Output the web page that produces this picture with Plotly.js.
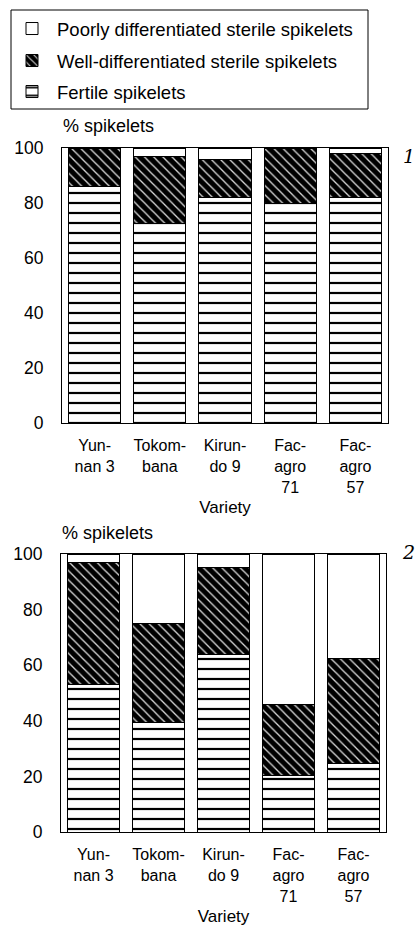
<!DOCTYPE html>
<html>
<head>
<meta charset="utf-8">
<script src="https://cdn.plot.ly/plotly-3.0.1.min.js"></script>
<style>html,body{margin:0;padding:0;background:#fff;}#chart{width:418px;height:929px;}</style>
</head>
<body>
<div id="chart"></div>
<script>
// ---- data ----
const varieties = ["Yunnan 3", "Tokombana", "Kirundo 9", "Facagro 71", "Facagro 57"];
const tickLabels = ["Yun-<br>nan 3", "Tokom-<br>bana", "Kirun-<br>do 9", "Fac-<br>agro<br>71", "Fac-<br>agro<br>57"];
const seriesNames = ["Fertile spikelets", "Well-differentiated sterile spikelets", "Poorly differentiated sterile spikelets"];
// Panel 1
const fertile1 = [86, 72.5, 82, 80, 82];
const wellSterile1 = [14, 24.5, 14, 20, 16];
const poorSterile1 = [0, 3, 4, 0, 2];
// Panel 2
const fertile2 = [53, 39.5, 64, 20.5, 24.5];
const wellSterile2 = [44, 35.5, 31, 25.5, 38];
const poorSterile2 = [3, 25, 5, 54, 37.5];
const yTicks = [0, 20, 40, 60, 80, 100];
const panelLabels = ["1", "2"];
const yTitle = "% spikelets";
const xTitle = "Variety";

// ---- helpers ----
const W = 418, H = 929;
const px = x => x / W;
const py = y => 1 - y / H;
const FONT = "Liberation Sans, Arial, sans-serif";

const styles = [
  {color: "#ffffff", pattern: {shape: "-", fgcolor: "#000", bgcolor: "#fff", size: 10, solidity: 0.22}},
  {color: "#000000", pattern: {shape: "\\", fgcolor: "#d8d8d8", bgcolor: "#000", size: 6.5, solidity: 0.2}},
  {color: "#ffffff", pattern: {shape: ""}}
];
const legends = ["legend3", "legend2", "legend"];

function panelTraces(vals, xa, ya, show) {
  return vals.map((v, i) => ({
    type: "bar",
    name: seriesNames[i],
    x: varieties,
    y: v,
    xaxis: xa, yaxis: ya,
    showlegend: show,
    legend: legends[i],
    marker: {color: styles[i].color, pattern: styles[i].pattern, line: {color: "#000", width: 1}},
    hoverinfo: "y+name"
  }));
}

const data = [
  ...panelTraces([fertile1, wellSterile1, poorSterile1], "x", "y", true),
  ...panelTraces([fertile2, wellSterile2, poorSterile2], "x2", "y2", false)
];

function xAxis(dom, anchor) {
  return {
    domain: dom, anchor: anchor,
    type: "category",
    tickmode: "array", tickvals: varieties, ticktext: tickLabels,
    tickfont: {family: FONT, size: 16, color: "#000"},
    ticklabelstandoff: 8,
    showline: true, mirror: true, linecolor: "#000", linewidth: 1,
    ticks: "", showgrid: false, zeroline: false, fixedrange: true,
    title: {text: xTitle, font: {family: FONT, size: 17, color: "#000"}, standoff: 6}
  };
}
function yAxis(dom, anchor) {
  return {
    domain: dom, anchor: anchor,
    range: [0, 100],
    tickmode: "array", tickvals: yTicks,
    tickfont: {family: FONT, size: 17.5, color: "#000"},
    ticklabelstandoff: 14,
    showline: true, mirror: true, linecolor: "#000", linewidth: 1,
    ticks: "", showgrid: false, zeroline: false, fixedrange: true
  };
}

const legendBase = {
  bgcolor: "rgba(0,0,0,0)", borderwidth: 0,
  font: {family: FONT, size: 18.5, color: "#000"},
  xanchor: "left", yanchor: "middle", itemwidth: 40, itemclick: false, itemdoubleclick: false
};

const layout = {
  width: W, height: H,
  margin: {l: 0, r: 0, t: 0, b: 0},
  paper_bgcolor: "#fff", plot_bgcolor: "#fff",
  barmode: "stack", bargap: 0.2,
  font: {family: FONT, color: "#000"},
  xaxis: xAxis([px(62), px(388)], "y"),
  yaxis: yAxis([py(423), py(148)], "x"),
  xaxis2: xAxis([px(61), px(386)], "y2"),
  yaxis2: yAxis([py(832), py(554)], "x2"),
  legend: Object.assign({x: px(7), y: py(29)}, legendBase),
  legend2: Object.assign({x: px(7), y: py(61)}, legendBase),
  legend3: Object.assign({x: px(7), y: py(92)}, legendBase),
  shapes: [
    {type: "rect", xref: "paper", yref: "paper", x0: px(11), x1: px(368), y0: py(109), y1: py(10),
     line: {color: "#000", width: 1}, fillcolor: "rgba(0,0,0,0)", layer: "below"}
  ],
  annotations: [
    {xref: "paper", yref: "paper", x: px(61), y: py(126), xanchor: "left", yanchor: "middle",
     text: yTitle, showarrow: false, font: {family: FONT, size: 18, color: "#000"}},
    {xref: "paper", yref: "paper", x: px(60), y: py(533), xanchor: "left", yanchor: "middle",
     text: yTitle, showarrow: false, font: {family: FONT, size: 18, color: "#000"}},
    {xref: "paper", yref: "paper", x: px(417), y: py(156), xanchor: "right", yanchor: "middle",
     text: "<i>" + panelLabels[0] + "</i>", showarrow: false, font: {family: "DejaVu Serif, serif", size: 19, color: "#000"}},
    {xref: "paper", yref: "paper", x: px(417), y: py(552), xanchor: "right", yanchor: "middle",
     text: "<i>" + panelLabels[1] + "</i>", showarrow: false, font: {family: "DejaVu Serif, serif", size: 19, color: "#000"}}
  ]
};

Plotly.newPlot("chart", data, layout, {displayModeBar: false, staticPlot: true});
</script>
</body>
</html>
